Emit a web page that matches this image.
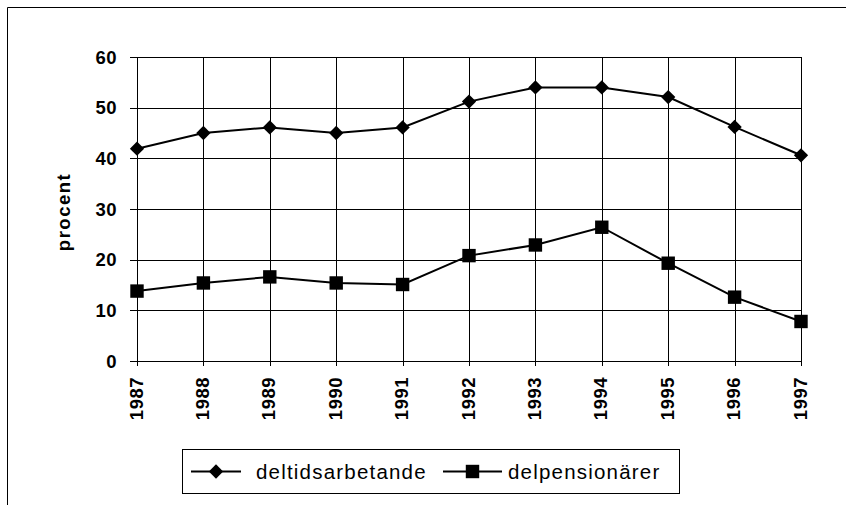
<!DOCTYPE html>
<html>
<head>
<meta charset="utf-8">
<script src="https://cdn.jsdelivr.net/npm/d3@7"></script>
<style>
  body { margin: 0; background: #fff; }
  svg { display: block; font-family: Arial, "Liberation Sans", sans-serif; }
</style>
</head>
<body>
<div class="container"></div>
<script>
// data
const years = [1987, 1988, 1989, 1990, 1991, 1992, 1993, 1994, 1995, 1996, 1997];
const deltid = [41.9, 45.0, 46.1, 45.0, 46.1, 51.2, 54.0, 54.0, 52.1, 46.2, 40.6];
const delpension = [13.8, 15.4, 16.6, 15.4, 15.1, 20.8, 22.9, 26.4, 19.3, 12.6, 7.8];
const yTicks = [0, 10, 20, 30, 40, 50, 60];
const seriesNames = ["deltidsarbetande", "delpensionärer"];

const width = 846;
const height = 505;
const margin = { top: 57, right: 45, bottom: 144, left: 137 };

const svg = d3
  .select(".container")
  .append("svg")
  .attr("width", width)
  .attr("height", height);

// outer chart frame (only top and left edges fall inside the window)
svg
  .append("path")
  .attr("d", `M7.5,${height}V7.5H${width}`)
  .attr("fill", "none")
  .attr("stroke", "#000")
  .attr("stroke-width", 1);

const x = d3
  .scalePoint()
  .domain(years)
  .range([margin.left, width - margin.right]);

const y = d3
  .scaleLinear()
  .domain([0, 60])
  .range([height - margin.bottom, margin.top]);

const crisp = (v) => Math.round(v) + 0.5;

// grid
const grid = svg.append("g").attr("stroke", "#000").attr("stroke-width", 1);
grid
  .selectAll("line.h")
  .data(yTicks)
  .join("line")
  .attr("class", "h")
  .attr("x1", x.range()[0] - 7)
  .attr("x2", x.range()[1])
  .attr("y1", (d) => crisp(y(d)))
  .attr("y2", (d) => crisp(y(d)));
grid
  .selectAll("line.v")
  .data(years)
  .join("line")
  .attr("class", "v")
  .attr("x1", (d) => crisp(x(d)))
  .attr("x2", (d) => crisp(x(d)))
  .attr("y1", y(60))
  .attr("y2", y(0) + 5);

// y tick labels
svg
  .append("g")
  .selectAll("text")
  .data(yTicks)
  .join("text")
  .attr("x", 117)
  .attr("y", (d) => y(d))
  .attr("dy", "0.36em")
  .attr("text-anchor", "end")
  .attr("font-size", 18.5)
  .attr("font-weight", "bold")
  .attr("letter-spacing", 0.5)
  .text((d) => d);

// x tick labels, rotated
svg
  .append("g")
  .selectAll("text")
  .data(years)
  .join("text")
  .attr("transform", (d) => `translate(${x(d) + 5.5},377) rotate(-90)`)
  .attr("text-anchor", "end")
  .attr("font-size", 18.5)
  .attr("font-weight", "bold")
  .attr("letter-spacing", 0.5)
  .text((d) => d);

// y axis title
svg
  .append("text")
  .attr("transform", `translate(69.5,212) rotate(-90)`)
  .attr("text-anchor", "middle")
  .attr("font-size", 18.5)
  .attr("font-weight", "bold")
  .attr("letter-spacing", 1.5)
  .text("procent");

const line = d3
  .line()
  .x((d, i) => x(years[i]))
  .y((d) => y(d));

const diamond = d3.symbol().type(d3.symbolDiamond2).size(130);
const square = d3.symbol().type(d3.symbolSquare).size(180);

function drawSeries(values, sym) {
  svg
    .append("path")
    .datum(values)
    .attr("fill", "none")
    .attr("stroke", "#000")
    .attr("stroke-width", 2)
    .attr("d", line);
  svg
    .append("g")
    .selectAll("path")
    .data(values)
    .join("path")
    .attr("transform", (d, i) => `translate(${x(years[i])},${y(d)})`)
    .attr("d", sym)
    .attr("fill", "#000");
}
drawSeries(deltid, diamond);
drawSeries(delpension, square);

// legend
const legend = svg.append("g");
legend
  .append("rect")
  .attr("x", 182.5)
  .attr("y", 449.5)
  .attr("width", 497)
  .attr("height", 44)
  .attr("fill", "#fff")
  .attr("stroke", "#000");

const legendItems = [
  { name: seriesNames[0], x0: 191, x1: 241, textX: 256, sym: diamond },
  { name: seriesNames[1], x0: 443, x1: 502, textX: 508, sym: square },
];
legendItems.forEach((it) => {
  legend
    .append("line")
    .attr("x1", it.x0)
    .attr("x2", it.x1)
    .attr("y1", 471.5)
    .attr("y2", 471.5)
    .attr("stroke", "#000")
    .attr("stroke-width", 2);
  legend
    .append("path")
    .attr("transform", `translate(${(it.x0 + it.x1) / 2},471.5)`)
    .attr("d", it.sym)
    .attr("fill", "#000");
  legend
    .append("text")
    .attr("x", it.textX)
    .attr("y", 471.5)
    .attr("dy", "0.36em")
    .attr("font-size", 20.5)
    .attr("letter-spacing", 1.2)
    .text(it.name);
});
</script>
</body>
</html>
